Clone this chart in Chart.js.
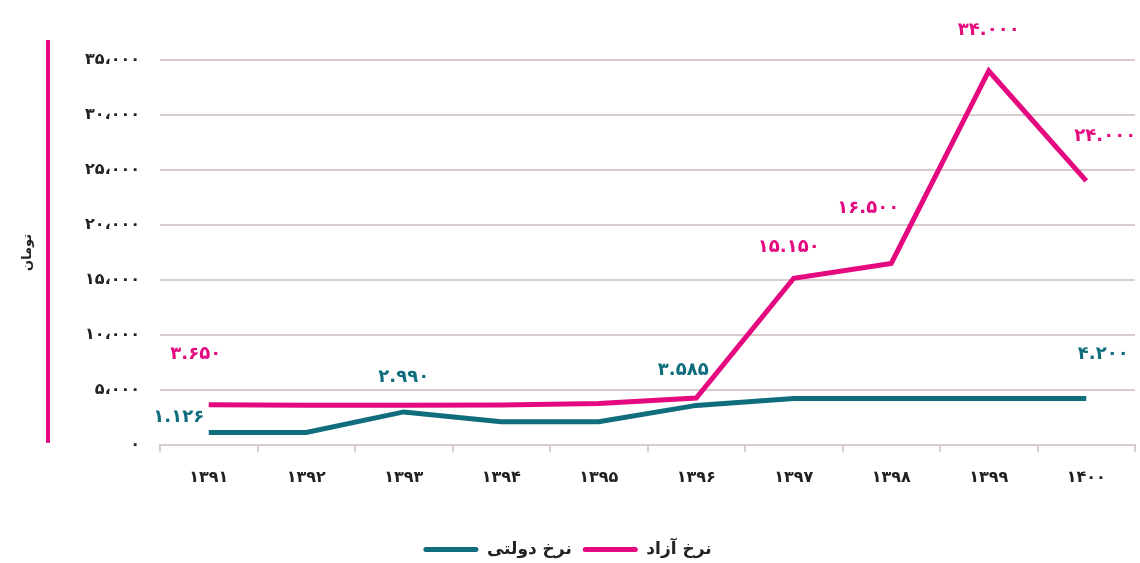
<!DOCTYPE html>
<html lang="fa">
<head>
<meta charset="utf-8">
<script src="https://cdn.jsdelivr.net/npm/chart.js@4/dist/chart.umd.min.js"></script>
<style>
    body { margin: 0; background: #fff; }
    #wrap { width: 1140px; height: 563px; position: relative; }
</style>
</head>
<body>
<div id="wrap"><canvas id="rateChart"></canvas></div>
<script>
// years (solar calendar)
const years = [1391, 1392, 1393, 1394, 1395, 1396, 1397, 1398, 1399, 1400];
// free market rate (toman)
const freeRate = [3650, 3600, 3600, 3620, 3750, 4250, 15150, 16500, 34000, 24000];
// government rate (toman)
const govRate = [1126, 1126, 2990, 2100, 2100, 3585, 4200, 4200, 4200, 4200];
// points that carry a value label
const freeLabelIdx = [0, 6, 7, 8, 9];
const govLabelIdx = [0, 2, 5, 9];
const yMax = 35000;
const yStep = 5000;

const PINK = '#e4097f';
const TEAL = '#0f6d7d';
const FONT = "'DejaVu Sans', sans-serif";

function faDigits(n, sep) {
    const s = String(n).replace(/\B(?=(\d{3})+(?!\d))/g, sep);
    return s.replace(/\d/g, d => '۰۱۲۳۴۵۶۷۸۹'[d]);
}

// label offsets from each point, in px
const labelOffsets = {
    free: { 0: [-13, -50], 6: [-5, -31], 7: [-23, -55], 8: [0, -41], 9: [19, -45] },
    gov: { 0: [-30, -15], 2: [0, -35], 5: [-13, -35], 9: [17, -44] }
};

const valueLabels = {
    id: 'valueLabels',
    afterDatasetsDraw(chart) {
        const ctx = chart.ctx;
        ctx.save();
        ctx.font = 'bold 18px ' + FONT;
        ctx.textAlign = 'center';
        ctx.textBaseline = 'middle';
        chart.data.datasets.forEach((ds, di) => {
            const meta = chart.getDatasetMeta(di);
            ds.labelIdx.forEach(i => {
                const pt = meta.data[i];
                const off = labelOffsets[ds.key][i];
                ctx.fillStyle = ds.borderColor;
                ctx.fillText(faDigits(ds.data[i], '.'), pt.x + off[0], pt.y + off[1]);
            });
        });
        ctx.restore();
    }
};

// pink bar next to the y axis
const sideBar = {
    id: 'sideBar',
    beforeDraw(chart) {
        const ctx = chart.ctx;
        ctx.save();
        ctx.fillStyle = PINK;
        ctx.fillRect(46, chart.chartArea.top - 20, 4, chart.chartArea.bottom - chart.chartArea.top + 18);
        ctx.restore();
    }
};

new Chart(document.getElementById('rateChart'), {
    type: 'line',
    data: {
        labels: years.map(y => faDigits(y, '')),
        datasets: [
            {
                key: 'gov',
                label: 'نرخ دولتی',
                data: govRate,
                labelIdx: govLabelIdx,
                borderColor: TEAL,
                backgroundColor: TEAL,
                borderWidth: 5,
                pointRadius: 0,
                tension: 0
            },
            {
                key: 'free',
                label: 'نرخ آزاد',
                data: freeRate,
                labelIdx: freeLabelIdx,
                borderColor: PINK,
                backgroundColor: PINK,
                borderWidth: 5,
                pointRadius: 0,
                tension: 0
            }
        ]
    },
    plugins: [sideBar, valueLabels],
    options: {
        responsive: true,
        maintainAspectRatio: false,
        animation: false,
        layout: { padding: { top: 60, right: 5, left: 0, bottom: -5 } },
        plugins: {
            tooltip: { enabled: false },
            legend: {
                position: 'bottom',
                labels: {
                    boxWidth: 55,
                    boxHeight: 5,
                    padding: 11,
                    color: '#222',
                    font: { family: FONT, size: 17, weight: 'bold' },
                    generateLabels(chart) {
                        return chart.data.datasets.map((ds, i) => ({
                            text: ds.label,
                            fillStyle: ds.borderColor,
                            strokeStyle: ds.borderColor,
                            lineWidth: 0,
                            borderRadius: 2.5,
                            fontColor: '#222',
                            hidden: false,
                            datasetIndex: i
                        }));
                    }
                }
            }
        },
        scales: {
            x: {
                offset: true,
                afterFit(scale) { scale.height += 27; },
                grid: {
                    offset: true,
                    drawOnChartArea: false,
                    drawTicks: true,
                    tickLength: 7,
                    color: '#d8cdca',
                    lineWidth: 2
                },
                border: { display: true, color: '#d8cdca', width: 2 },
                ticks: {
                    color: '#222',
                    padding: 16,
                    font: { family: FONT, size: 16, weight: 'bold' }
                }
            },
            y: {
                min: 0,
                max: yMax,
                afterFit(scale) { scale.width = 160; },
                title: {
                    display: true,
                    text: 'تومان',
                    color: '#222',
                    padding: { top: 20 },
                    font: { family: FONT, size: 13, weight: 'bold' }
                },
                grid: {
                    drawTicks: false,
                    color: ctx => ctx.tick.value === 0 ? 'rgba(0,0,0,0)' : '#d8cdca',
                    lineWidth: 2
                },
                border: { display: false },
                ticks: {
                    stepSize: yStep,
                    padding: 20,
                    color: '#222',
                    font: { family: FONT, size: 16, weight: 'bold' },
                    callback: v => faDigits(v, '،')
                }
            }
        }
    }
});
</script>
</body>
</html>
